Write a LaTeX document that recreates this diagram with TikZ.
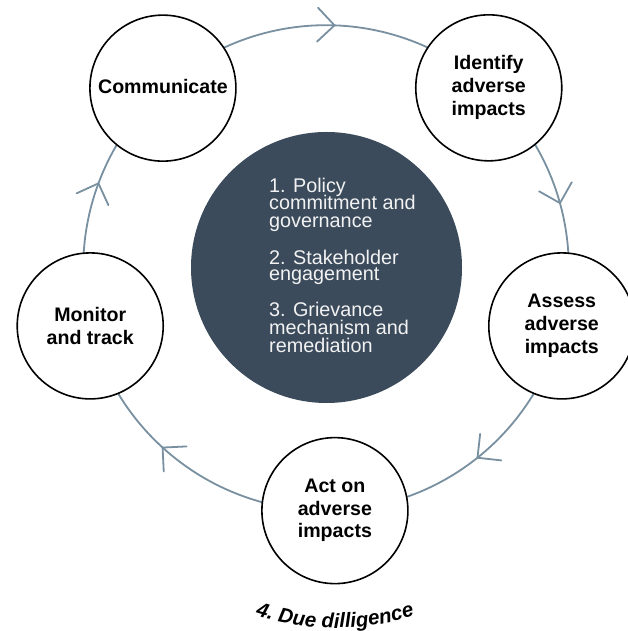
\documentclass[tikz,border=0pt]{standalone}
\usepackage{fontspec}
\setmainfont{Liberation Sans}
\usetikzlibrary{calc,backgrounds,decorations.text}
\definecolor{ringc}{HTML}{7890A0}
\definecolor{hubc}{HTML}{3B4B5C}
\definecolor{hubtext}{HTML}{F2F2F2}
\newcommand\stagetext[2]{\raisebox{#1}{\begin{tabular}{@{}c@{}}#2\end{tabular}}}
\begin{document}
\begin{tikzpicture}[x=1pt,y=1pt,
  stage/.style={circle,draw=black,line width=1.6pt,fill=white,minimum size=146pt,
    inner sep=0pt,align=center,font=\bfseries\fontsize{19.6}{22.7}\selectfont},
  ring/.style={draw=ringc,line width=1.8pt,line cap=round,line join=round},
  hubline/.style={anchor=base west,inner sep=0pt,text=hubtext,
    font=\fontsize{19.8}{17.7}\selectfont}]
\begin{scope}[on background layer]
  \fill[white] (0,0) rectangle (628,631);
\end{scope}
\useasboundingbox (0,0) rectangle (628,631);
\coordinate (O) at (326,363);
% central hub
\node[circle,fill=hubc,minimum size=271pt,inner sep=0pt] (hub) at (326.5,363.5) {};
\foreach \y/\t [count=\i] in {438.7/1. Policy, 421/commitment and, 403.7/governance,
    366.7/2. Stakeholder, 350/engagement,
    314.3/3. Grievance, 296/mechanism and, 278.3/remediation}
  \node[hubline] (h\i) at (269,\y) {\t};
% stages
\node[stage] (comm)  at ($(O)+(132.2:242.8)$) {\raisebox{4pt}{Communicate}};
\node[stage] (ident) at ($(O)+(47.9:242.8)$)  {\stagetext{-3pt}{Identify\\adverse\\impacts}};
\node[stage] (assess) at ($(O)+(-13.8:242.8)$) {\stagetext{-2pt}{Assess\\adverse\\impacts}};
\node[stage] (act)   at ($(O)+(-87.9:242.8)$) {\stagetext{-3pt}{Act on\\adverse\\impacts}};
\node[stage] (mon)   at ($(O)+(193.8:242.8)$) {Monitor\\and track};
% ring connectors
\begin{scope}[on background layer]
  \draw[ring] (comm.center) arc[start angle=132.2,end angle=88,radius=242.8] coordinate (t1)
    arc[start angle=88,end angle=47.9,radius=242.8];
  \draw[ring] (ident.center) arc[start angle=47.9,end angle=15.5,radius=242.8] coordinate (t2)
    arc[start angle=15.5,end angle=-13.8,radius=242.8];
  \draw[ring] (assess.center) arc[start angle=-13.8,end angle=-51.4,radius=242.8] coordinate (t3)
    arc[start angle=-51.4,end angle=-87.9,radius=242.8];
  \draw[ring] (act.center) arc[start angle=-87.9,end angle=-132.3,radius=242.8] coordinate (t4)
    arc[start angle=-132.3,end angle=-166.2,radius=242.8];
  \draw[ring] (mon.center) arc[start angle=193.8,end angle=159.6,radius=242.8] coordinate (t5)
    arc[start angle=159.6,end angle=132.2,radius=242.8];
\end{scope}
% chevrons
\foreach \c/\a in {t1/88, t2/15.5, t3/-51.4, t4/-132.3, t5/159.6}
  \draw[ring] ([shift={(\a+45:24)}]\c) -- (\c) -- ([shift={(\a+135:24)}]\c);
% curved caption
\path[decorate,decoration={text along path,text align=center,
   text={|\bfseries\itshape\fontsize{20.5}{20.5}\selectfont|4. Due dilligence}}]
  ($(335,261)+(-125:258)$) arc[start angle=-125,end angle=-55,radius=258];
\end{tikzpicture}
\end{document}
